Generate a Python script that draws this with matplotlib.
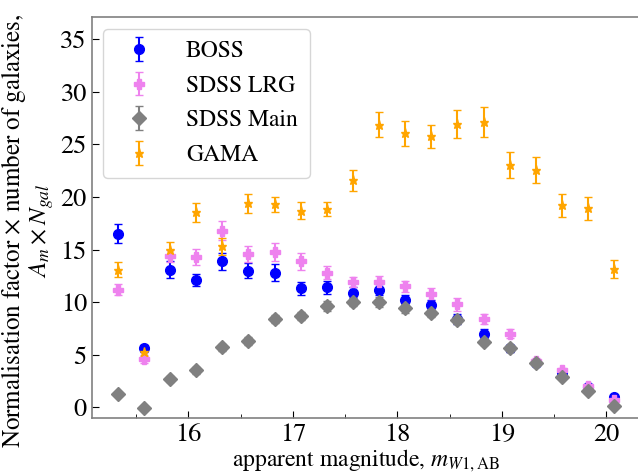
import numpy as np
import matplotlib
matplotlib.use('Agg')
import matplotlib.pyplot as plt
from matplotlib.ticker import MultipleLocator

plt.rcParams['font.family'] = ['STIXGeneral', 'DejaVu Serif']
plt.rcParams['mathtext.fontset'] = 'stix'

# magnitude bin centres
mag = [15.325, 15.575, 15.825, 16.075, 16.325, 16.575, 16.825, 17.075, 17.325, 17.575,
       17.825, 18.075, 18.325, 18.575, 18.825, 19.075, 19.325, 19.575, 19.825, 20.075]

boss = [16.5, 5.6, 13.1, 12.1, 13.9, 13.0, 12.8, 11.3, 11.4, 10.9,
        11.2, 10.2, 9.7, 8.4, 7.0, 5.6, 4.2, 3.3, 1.95, 0.95]
boss_err = [0.9, 0.3, 0.8, 0.6, 0.8, 0.7, 0.8, 0.6, 0.6, 0.5,
            0.55, 0.5, 0.5, 0.5, 0.4, 0.35, 0.3, 0.25, 0.2, 0.2]

lrg = [11.2, 4.6, 14.4, 14.3, 16.8, 14.6, 14.8, 13.9, 12.8, 11.9,
       11.95, 11.5, 10.75, 9.8, 8.4, 7.0, 4.4, 3.5, 2.05, 0.7]
lrg_err = [0.5, 0.4, 0.6, 0.75, 0.9, 0.75, 0.85, 0.8, 0.6, 0.5,
           0.55, 0.55, 0.6, 0.6, 0.5, 0.4, 0.3, 0.25, 0.2, 0.2]

main = [1.3, -0.1, 2.7, 3.5, 5.7, 6.3, 8.4, 8.7, 9.65, 10.05,
        10.0, 9.4, 8.95, 8.3, 6.2, 5.6, 4.25, 2.9, 1.55, 0.15]
main_err = [0.2, 0.2, 0.25, 0.3, 0.35, 0.35, 0.4, 0.4, 0.45, 0.45,
            0.45, 0.4, 0.4, 0.4, 0.3, 0.3, 0.25, 0.2, 0.15, 0.1]

gama = [13.1, 5.3, 15.0, 18.55, 15.3, 19.4, 19.3, 18.7, 18.85, 21.6,
        26.9, 26.05, 25.8, 26.95, 27.15, 23.05, 22.6, 19.2, 18.95, 13.15]
gama_err = [0.75, 0.4, 0.7, 0.9, 0.85, 0.9, 0.75, 0.8, 0.7, 1.0,
            1.2, 1.15, 1.1, 1.3, 1.4, 1.25, 1.25, 1.1, 1.1, 0.85]

fig = plt.figure(figsize=(6.38, 4.74), dpi=100)
ax = fig.add_axes([0.1437, 0.1175, 0.8599, 0.846])

ax.errorbar(mag, boss, yerr=boss_err, fmt='o', color='blue', ms=7, capsize=3, label='BOSS')
ax.errorbar(mag, lrg, yerr=lrg_err, fmt='P', color='violet', ms=6.5, capsize=3, label='SDSS LRG')
ax.errorbar(mag, main, yerr=main_err, fmt='D', color='grey', ms=7, capsize=3, label='SDSS Main')
ax.errorbar(mag, gama, yerr=gama_err, fmt='*', color='orange', ms=6.5, capsize=3, label='GAMA')

ax.set_xlim(15.075, 20.325)
ax.set_ylim(-1.05, 37.1)
ax.xaxis.set_major_locator(MultipleLocator(1))
ax.xaxis.set_minor_locator(MultipleLocator(0.5))
ax.yaxis.set_major_locator(MultipleLocator(5))
ax.tick_params(direction='in', labelsize=19, length=5)
ax.tick_params(which='minor', direction='in', length=3)
for s in ax.spines.values():
    s.set_color('grey')
    s.set_linewidth(1.2)

ax.set_xlabel(r'apparent magnitude, $m_{W1,\mathrm{AB}}$', fontsize=17, labelpad=0)
ax.set_ylabel('Normalisation factor $\\times$ number of galaxies,\n$A_m \\times N_{gal}$',
              fontsize=18, linespacing=0.95)
ax.yaxis.set_label_coords(-0.065, 0.467)

ax.legend(loc='upper left', fontsize=17, borderpad=0.5, labelspacing=0.55, handletextpad=1.0)

fig.savefig('out.png', dpi=100)
